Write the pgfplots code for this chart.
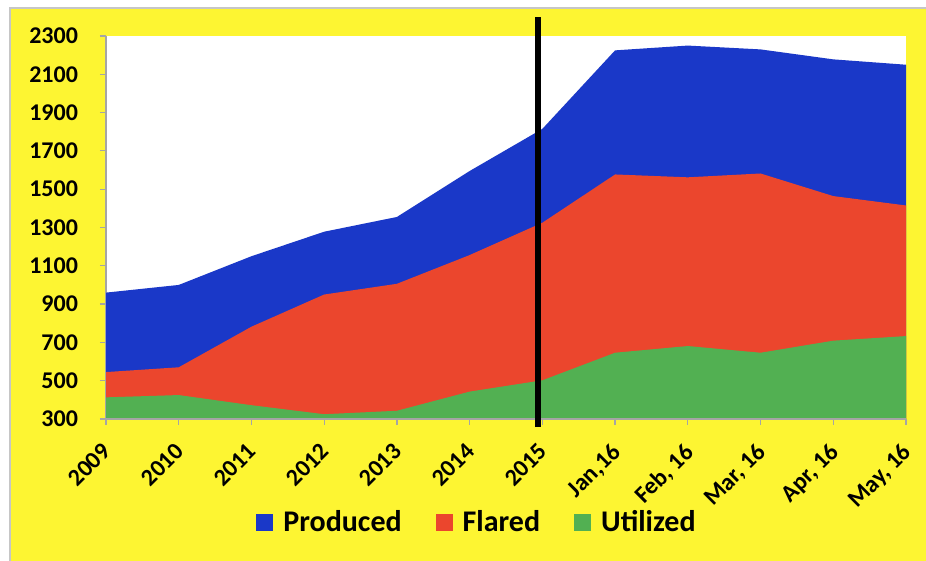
\documentclass[border=0pt]{standalone}
\usepackage{pgfplots}
\pgfplotsset{compat=1.18}
\usepackage{fontspec}
\setmainfont{Carlito}

\definecolor{bgyellow}{RGB}{253,245,50}
\definecolor{prodblue}{RGB}{26,56,200}
\definecolor{flarered}{RGB}{235,70,45}
\definecolor{utilgreen}{RGB}{82,176,82}
\definecolor{axisgray}{RGB}{165,165,165}

\begin{document}
\begin{tikzpicture}
    % page and yellow chart area (0.5pt per reference pixel)
    \useasboundingbox (-53pt,-71pt) rectangle (410pt,209.5pt);
    \fill[white] (-53pt,-71pt) rectangle (410pt,209.5pt);
    \filldraw[fill=bgyellow, draw=gray!45, line width=0.6pt] (-48pt,-72pt) rectangle (411pt,205.5pt);

    \begin{axis}[
            at={(0,0)}, anchor=south west,
            scale only axis,
            width=400pt, height=191.5pt,
            xmin=0, xmax=11,
            ymin=300, ymax=2300,
            clip=false,
            axis background/.style={fill=white},
            axis lines=left,
            axis line style={-, draw=axisgray, line width=0.6pt},
            tick align=outside,
            major tick length=3pt,
            tick style={draw=axisgray, line width=0.6pt},
            xtick={0,1,...,11},
            xticklabels={2009,2010,2011,2012,2013,2014,2015,{Jan,16},{Feb, 16},{Mar, 16},{Apr, 16},{May, 16}},
            ytick={300,500,...,2300},
            /pgf/number format/assume math mode=true,
            /pgf/number format/1000 sep={},
            tick label style={font=\bfseries\fontsize{12}{14}\selectfont, text=black},
            yticklabel style={xshift=-7.5pt},
            xticklabel style={xshift=-2.5pt, yshift=-7.5pt, rotate=45, anchor=north east, inner sep=0.5pt},
            legend columns=3,
            legend style={
                    at={(0.465,-0.27)}, anchor=center,
                    draw=none, fill=none,
                    font=\bfseries\fontsize{15}{18}\selectfont,
                    /tikz/every odd column/.append style={column sep=3pt},
                    /tikz/every even column/.append style={column sep=15pt}
                },
            legend image code/.code={
                    \fill[#1] (0pt,-4.2pt) rectangle (8.5pt,4.2pt);
                },
        ]
        % produced
        \addplot [fill=prodblue, draw=none] coordinates {
                (0,300) (0,960) (1,1000) (2,1150) (3,1278) (4,1355) (5,1595)
                (6,1815) (7,2225) (8,2250) (9,2230) (10,2178) (11,2150) (11,300)
            };
        \addlegendentry{Produced}
        % flared
        \addplot [fill=flarered, draw=none] coordinates {
                (0,300) (0,545) (1,570) (2,782) (3,950) (4,1006) (5,1156)
                (6,1325) (7,1577) (8,1562) (9,1582) (10,1464) (11,1415) (11,300)
            };
        \addlegendentry{Flared}
        % utilized
        \addplot [fill=utilgreen, draw=none] coordinates {
                (0,300) (0,413) (1,425) (2,372) (3,325) (4,343) (5,443)
                (6,502) (7,646) (8,681) (9,646) (10,709) (11,733) (11,300)
            };
        \addlegendentry{Utilized}

        % redraw bottom axis line over the fills
        \draw[axisgray, line width=0.6pt] (axis cs:0,300) -- (axis cs:11,300);
        % marker line near 2015
        \draw[black, line width=3pt] (axis cs:5.94,258) -- (axis cs:5.94,2398);
    \end{axis}
\end{tikzpicture}
\end{document}
